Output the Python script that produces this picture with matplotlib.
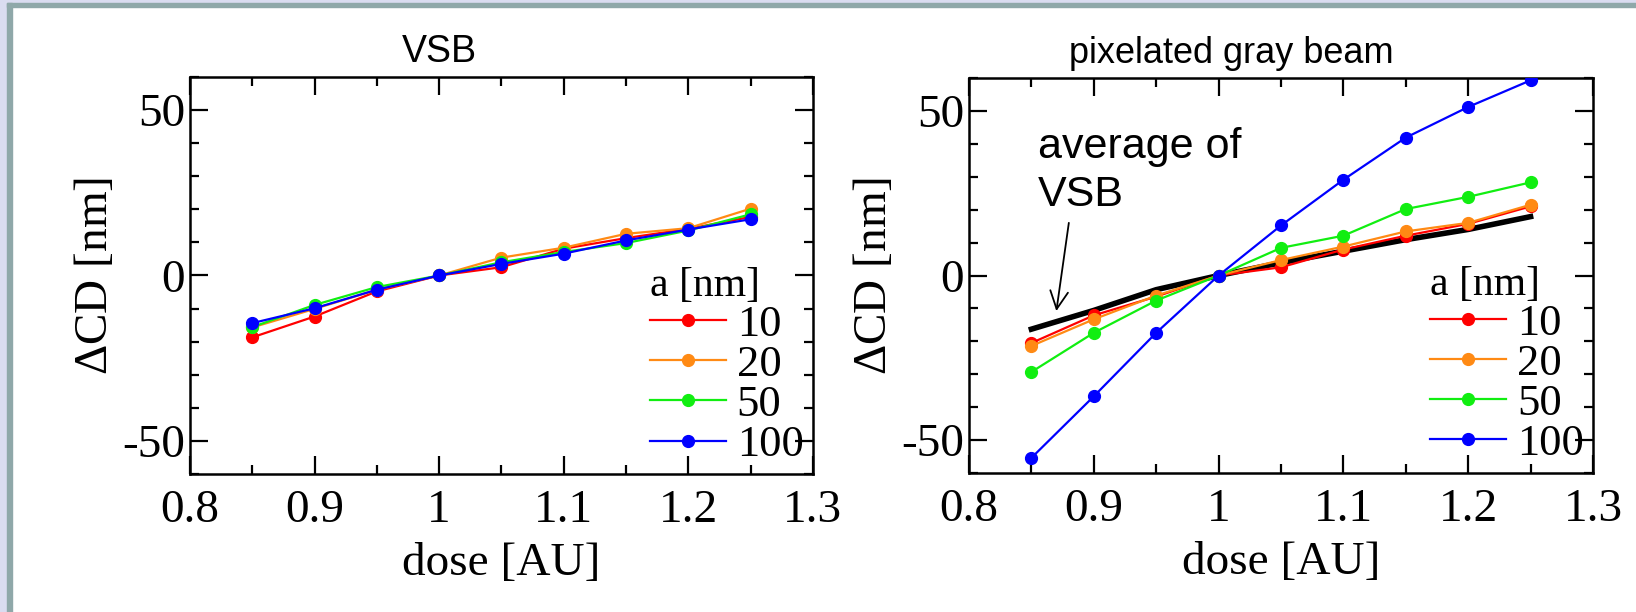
import matplotlib
matplotlib.use("Agg")
import matplotlib.pyplot as plt
from matplotlib.patches import Rectangle
from matplotlib.ticker import MultipleLocator, FormatStrFormatter

# dose values
dose = [0.85, 0.9, 0.95, 1.0, 1.05, 1.1, 1.15, 1.2, 1.25]
sizes = ["10", "20", "50", "100"]
colors = ["#ff0000", "#ff8a14", "#11ee11", "#0000ff"]

# VSB
vsb_10 = [-18.7, -12.4, -4.8, 0, 2.5, 8.1, 11.3, 14.1, 17.7]
vsb_20 = [-15.7, -10.1, -4.3, 0, 5.4, 8.4, 12.6, 14.3, 20.2]
vsb_50 = [-15.6, -8.9, -3.5, 0, 4.0, 7.1, 9.8, 13.6, 18.5]
vsb_100 = [-14.4, -9.9, -4.3, 0, 3.5, 6.6, 10.6, 13.9, 17.0]

# pixelated gray beam
pgb_10 = [-20.5, -12.1, -6.4, 0, 2.5, 7.9, 12.1, 15.7, 21.0]
pgb_20 = [-21.4, -13.3, -6.1, 0, 4.7, 8.8, 13.4, 16.0, 21.5]
pgb_50 = [-29.3, -17.4, -7.6, 0, 8.4, 12.1, 20.2, 23.9, 28.3]
pgb_100 = [-55.4, -36.7, -17.4, 0, 15.2, 29.1, 41.9, 51.2, 59.3]
vsb_avg = [-16.3, -10.6, -4.3, 0, 3.9, 7.4, 10.9, 14.0, 17.9]

serif = ["Liberation Serif", "DejaVu Serif"]
sans = ["Liberation Sans", "DejaVu Sans"]
plt.rcParams["font.family"] = serif
plt.rcParams["axes.unicode_minus"] = False
plt.rcParams["mathtext.fontset"] = "custom"
plt.rcParams["mathtext.rm"] = "Liberation Serif"

fig = plt.figure(figsize=(16.36, 6.12), dpi=100)

# slide frame
fig.patches.append(Rectangle((0, 0), 7 / 1636, 1, transform=fig.transFigure, color="#dadcf0", zorder=-5))
fig.patches.append(Rectangle((0, 1 - 3 / 612), 1, 3 / 612, transform=fig.transFigure, color="#dadcf0", zorder=-5))
fig.patches.append(Rectangle((7 / 1636, 0), 5 / 1636, 1 - 3 / 612, transform=fig.transFigure, color="#8fa8a9", zorder=-4))
fig.patches.append(Rectangle((7 / 1636, 1 - 7 / 612), 1, 4 / 612, transform=fig.transFigure, color="#8fa8a9", zorder=-4))

ax1 = fig.add_axes([0.1161, 0.2255, 0.3808, 0.6487])
ax2 = fig.add_axes([0.5923, 0.2271, 0.3814, 0.6454])


def style_axes(ax):
    ax.set_xlim(0.8, 1.3)
    ax.set_ylim(-60, 60)
    ax.xaxis.set_major_locator(MultipleLocator(0.1))
    ax.xaxis.set_minor_locator(MultipleLocator(0.05))
    ax.yaxis.set_major_locator(MultipleLocator(50))
    ax.yaxis.set_minor_locator(MultipleLocator(10))
    ax.xaxis.set_major_formatter(FormatStrFormatter("%g"))
    ax.tick_params(which="both", direction="in", top=True, right=True, width=1.6, labelsize=34)
    ax.tick_params(which="major", length=13)
    ax.tick_params(axis="x", which="major", pad=11)
    ax.tick_params(which="minor", length=6.5)
    for s in ax.spines.values():
        s.set_linewidth(1.8)
    ax.set_xlabel("dose [AU]", fontsize=34, labelpad=8)
    ax.set_ylabel("$\\Delta$CD [nm]", fontsize=34, labelpad=4)


for ax, series in [(ax1, [vsb_10, vsb_20, vsb_50, vsb_100]),
                   (ax2, [pgb_10, pgb_20, pgb_50, pgb_100])]:
    for vals, c, lab in zip(series, colors, sizes):
        ax.plot(dose, vals, "-o", color=c, lw=1.6, ms=8.5, label=lab, zorder=3)
    style_axes(ax)
    leg = ax.legend(title="a [nm]", loc="lower right", bbox_to_anchor=(1.035, -0.056),
                    frameon=False, fontsize=32, title_fontsize=30, handlelength=1.7,
                    handletextpad=0.25, labelspacing=0.0, borderpad=0.2)
    leg._legend_box.align = "left"

ax2.plot(dose, vsb_avg, "-", color="black", lw=4, zorder=2.5)
ax2.text(0.855, 45, "average of\nVSB", fontsize=31, family=sans, va="top", ha="left",
         linespacing=1.25)
ax2.annotate("", xy=(0.870, -10.8), xytext=(0.880, 16.0),
             arrowprops=dict(arrowstyle="->", color="black", lw=1.3, mutation_scale=32,
                             shrinkA=0, shrinkB=0))

ax1.set_title("VSB", fontsize=27, family=sans, x=0.40, pad=11)
ax2.set_title("pixelated gray beam", fontsize=26, family=sans, x=0.42, pad=11)

fig.savefig("out.png", dpi=100)
